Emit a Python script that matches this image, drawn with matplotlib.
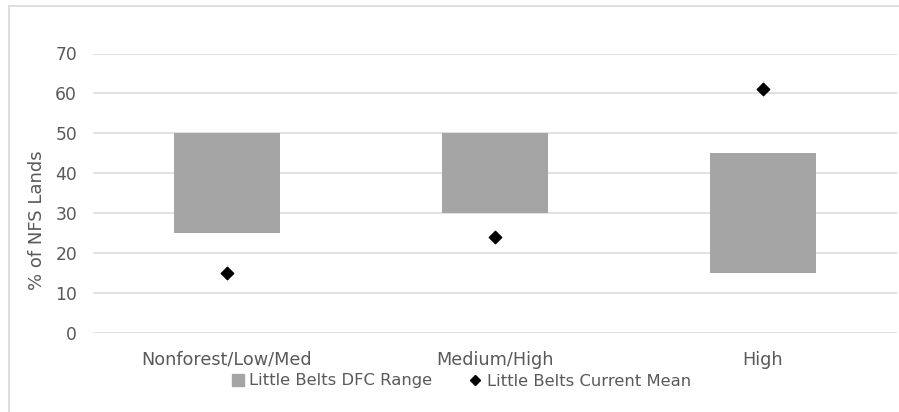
import matplotlib
matplotlib.use("Agg")
import matplotlib.pyplot as plt
from matplotlib.lines import Line2D

categories = ["Nonforest/Low/Med", "Medium/High", "High"]
dfc_low = [25, 30, 15]
dfc_high = [50, 50, 45]
current_mean = [15, 24, 61]
y_ticks = [0, 10, 20, 30, 40, 50, 60, 70]

W, H = 899, 412
TEXT = "#595959"
GRID = "#d9d9d9"
BAR = "#a5a5a5"
FONT = "DejaVu Sans"

fig = plt.figure(figsize=(W / 100, H / 100), dpi=100)

# chart-area border (top and left edges visible)
fig.add_artist(Line2D([9 / W, 9 / W], [0, 1 - 6 / H], transform=fig.transFigure,
                      color=GRID, lw=1.2))
fig.add_artist(Line2D([9 / W, 1], [1 - 6 / H, 1 - 6 / H], transform=fig.transFigure,
                      color=GRID, lw=1.2))

left, right = 93 / W, 897 / W
bottom, top = 1 - 332.5 / H, 1 - 53.5 / H
ax = fig.add_axes([left, bottom, right - left, top - bottom])

x = list(range(len(categories)))
heights = [h - l for h, l in zip(dfc_high, dfc_low)]
ax.bar(x, heights, bottom=dfc_low, width=106 / 268, color=BAR, zorder=2,
       label="Little Belts DFC Range")
ax.scatter(x, current_mean, marker="D", s=40, color="black", zorder=3,
           label="Little Belts Current Mean")

ax.set_xlim(-0.5, len(categories) - 0.5)
ax.set_ylim(0, 70)
ax.set_yticks(y_ticks)
ax.set_xticks(x)
ax.set_xticklabels(categories)
ax.yaxis.grid(True, color=GRID, lw=1.1, zorder=0)
ax.set_axisbelow(True)
for s in ax.spines.values():
    s.set_visible(False)
ax.tick_params(axis="both", length=0, labelcolor=TEXT)
ax.tick_params(axis="y", pad=11.5, labelsize=12.3)
ax.tick_params(axis="x", pad=13, labelsize=12.7)
for lbl in ax.get_xticklabels() + ax.get_yticklabels():
    lbl.set_fontfamily(FONT)

fig.text(37 / W, 1 - 220 / H, "% of NFS Lands", rotation=90, ha="center",
         va="center", fontsize=13, color=TEXT, family=FONT)

handles = [
    Line2D([], [], marker="s", linestyle="none", markersize=8, color=BAR),
    Line2D([], [], marker="D", linestyle="none", markersize=5.5, color="black"),
]
leg = fig.legend(handles, ["Little Belts DFC Range", "Little Belts Current Mean"],
                 loc="center", bbox_to_anchor=(461 / W, 1 - 381 / H), ncol=2,
                 frameon=False, handlelength=0.8, handletextpad=0.3,
                 columnspacing=2.2, prop={"family": FONT, "size": 11.8})
for t in leg.get_texts():
    t.set_color(TEXT)

fig.savefig("out.png", dpi=100)
